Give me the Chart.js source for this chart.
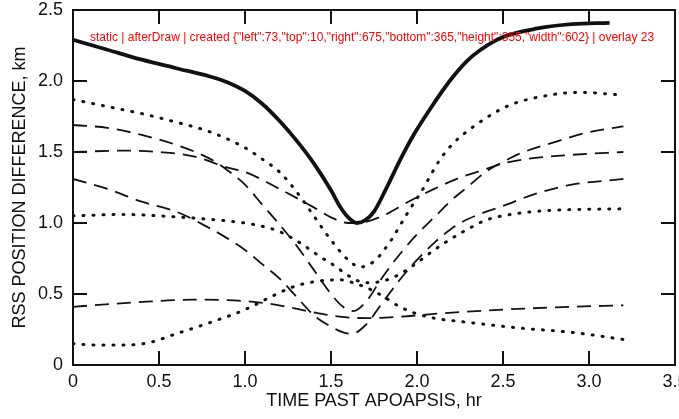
<!DOCTYPE html>
<html lang="en">
<head>
    <meta charset="UTF-8">
    <title>RSS Position Difference</title>
    <style>
        body {
            margin: 0;
            padding: 0;
            background-color: #fff;
        }
        .wrap {
            position: relative;
            width: 679px;
            height: 419px;
        }
        #chart {
            display: block;
        }
        .frame, .tick {
            position: absolute;
            pointer-events: none;
            box-sizing: border-box;
        }
        .frame {
            border: 2px solid #111;
        }
        .tick {
            background-color: #111;
        }
        #dbg {
            position: absolute;
            left: 90px;
            top: 30px;
            color: red;
            font: 12px sans-serif;
        }
    </style>
</head>
<body>
    <div class="wrap" id="wrap">
        <canvas id="chart" width="679" height="419"></canvas>
        <div id="dbg">static</div>
    </div>

    <script src="https://cdn.jsdelivr.net/npm/chart.js"></script>
    <script>
        const dbg = m => { document.getElementById('dbg').textContent += ' | ' + m; };
        window.onerror = m => dbg('ERR ' + m);

        // Values (hours, km)
        const xTicks = [0, 0.5, 1.0, 1.5, 2.0, 2.5, 3.0, 3.5];
        const yTicks = [0, 0.5, 1.0, 1.5, 2.0, 2.5];

        // Solid curve
        const solidT = [0, 0.2, 0.4, 0.6, 0.8, 0.9, 1.0, 1.1, 1.2, 1.3, 1.4, 1.5, 1.55, 1.6, 1.65, 1.7, 1.75, 1.82, 1.9, 1.98, 2.08, 2.19, 2.29, 2.37, 2.5, 2.7, 2.9, 3.12];
        const solidY = [2.29, 2.22, 2.15, 2.09, 2.03, 1.99, 1.93, 1.84, 1.72, 1.58, 1.42, 1.23, 1.12, 1.04, 1.0, 1.02, 1.08, 1.24, 1.44, 1.62, 1.81, 2.0, 2.14, 2.22, 2.31, 2.37, 2.4, 2.41];

        // Dotted curves
        const dot1T = [0, 0.2, 0.4, 0.6, 0.8, 1.0, 1.1, 1.2, 1.3, 1.4, 1.5, 1.6, 1.67, 1.75, 1.85, 1.91, 1.96, 2.02, 2.13, 2.21, 2.33, 2.52, 2.72, 2.95, 3.2];
        const dot1Y = [1.87, 1.82, 1.77, 1.71, 1.64, 1.53, 1.45, 1.36, 1.22, 1.05, 0.88, 0.74, 0.69, 0.73, 0.88, 1.0, 1.1, 1.21, 1.44, 1.56, 1.68, 1.82, 1.89, 1.92, 1.9];

        const dot2T = [0, 0.3, 0.5, 0.75, 0.93, 1.05, 1.2, 1.32, 1.44, 1.52, 1.6, 1.7, 1.8, 1.9, 2.0, 2.1, 2.2, 2.3, 2.4, 2.6, 2.8, 3.2];
        const dot2Y = [1.05, 1.06, 1.05, 1.03, 1.01, 0.99, 0.94, 0.86, 0.76, 0.7, 0.63, 0.58, 0.59, 0.64, 0.72, 0.81, 0.89, 0.96, 1.02, 1.07, 1.09, 1.1];

        const dot3T = [0, 0.15, 0.3, 0.45, 0.6, 0.8, 1.0, 1.15, 1.28, 1.42, 1.55, 1.65, 1.75, 1.82, 1.9, 2.0, 2.1, 2.3, 2.6, 2.9, 3.2];
        const dot3Y = [0.15, 0.14, 0.14, 0.16, 0.22, 0.3, 0.39, 0.48, 0.55, 0.59, 0.6, 0.57, 0.52, 0.47, 0.41, 0.36, 0.33, 0.3, 0.26, 0.23, 0.18];

        // Dashed curves
        const dashAT = [0, 0.2, 0.4, 0.6, 0.8, 0.9, 1.0, 1.1, 1.2, 1.3, 1.4, 1.5, 1.57, 1.63, 1.7, 1.8, 1.9, 2.0, 2.1, 2.2, 2.3, 2.4, 2.5, 2.6, 2.8, 3.0, 3.2];
        const dashAY = [1.69, 1.67, 1.62, 1.55, 1.45, 1.37, 1.27, 1.13, 0.99, 0.84, 0.67, 0.5, 0.41, 0.38, 0.44, 0.62, 0.78, 0.92, 1.04, 1.16, 1.26, 1.36, 1.43, 1.49, 1.57, 1.64, 1.68];

        const dashBT = [0, 0.3, 0.5, 0.7, 0.9, 1.0, 1.2, 1.4, 1.5, 1.6, 1.65, 1.8, 1.95, 2.1, 2.25, 2.4, 2.5, 2.7, 2.9, 3.2];
        const dashBY = [1.5, 1.51, 1.5, 1.47, 1.39, 1.36, 1.24, 1.11, 1.04, 1.0, 1.0, 1.05, 1.15, 1.24, 1.32, 1.38, 1.42, 1.46, 1.48, 1.5];

        const dashCT = [0, 0.2, 0.4, 0.6, 0.8, 0.9, 1.0, 1.1, 1.2, 1.3, 1.4, 1.5, 1.57, 1.62, 1.7, 1.8, 1.9, 2.0, 2.1, 2.2, 2.3, 2.5, 2.7, 2.9, 3.2];
        const dashCY = [1.31, 1.24, 1.15, 1.08, 0.96, 0.89, 0.81, 0.71, 0.61, 0.48, 0.35, 0.27, 0.23, 0.22, 0.28, 0.44, 0.6, 0.74, 0.86, 0.96, 1.03, 1.12, 1.21, 1.27, 1.31];

        const dashET = [0, 0.35, 0.7, 1.0, 1.2, 1.4, 1.55, 1.7, 1.9, 2.1, 2.5, 2.9, 3.2];
        const dashEY = [0.41, 0.44, 0.46, 0.45, 0.42, 0.37, 0.34, 0.33, 0.34, 0.36, 0.39, 0.41, 0.42];

        const FONT = '"Liberation Sans", Arial, Helvetica, sans-serif';
        const INK = '#111';

        function series(xs, ys, kind) {
            const ds = {
                data: xs.map((x, i) => ({ x: x, y: ys[i] })),
                borderColor: INK,
                pointRadius: 0,
                fill: false,
                cubicInterpolationMode: 'monotone'
            };
            if (kind === 'solid') {
                ds.borderWidth = 3.8;
            } else if (kind === 'dash') {
                ds.borderWidth = 1.8;
                ds.borderDash = [14, 8];
            } else {
                ds.borderWidth = 3;
                ds.borderDash = [1, 9];
                ds.borderCapStyle = 'round';
            }
            return ds;
        }

        function fmt(v) {
            return v === 0 ? '0' : v.toFixed(1);
        }

        const framePlugin = {
            id: 'boxTicks',
            afterDraw(chart) {
                dbg('afterDraw');
                const ctx = chart.ctx;
                const a = chart.chartArea;
                ctx.save();
                ctx.setLineDash([]);
                ctx.strokeStyle = INK;
                ctx.lineWidth = 2;
                ctx.strokeRect(a.left, a.top, a.right - a.left, a.bottom - a.top);
                ctx.restore();
            }
        };

        const chart = new Chart(document.getElementById('chart'), {
            type: 'line',
            data: {
                datasets: [
                    series(solidT, solidY, 'solid'),
                    series(dot1T, dot1Y, 'dot'),
                    series(dot2T, dot2Y, 'dot'),
                    series(dot3T, dot3Y, 'dot'),
                    series(dashAT, dashAY, 'dash'),
                    series(dashBT, dashBY, 'dash'),
                    series(dashCT, dashCY, 'dash'),
                    series(dashET, dashEY, 'dash')
                ]
            },
            options: {
                responsive: false,
                animation: false,
                devicePixelRatio: 1,
                layout: { padding: { top: 10, right: 4, left: 0, bottom: 0 } },
                plugins: {
                    legend: { display: false },
                    tooltip: { enabled: false }
                },
                scales: {
                    x: {
                        type: 'linear',
                        min: 0,
                        max: 3.5,
                        afterBuildTicks: s => { s.ticks = xTicks.map(v => ({ value: v })); },
                        ticks: {
                            color: INK,
                            font: { family: FONT, size: 18 },
                            padding: 6,
                            maxRotation: 0,
                            callback: fmt
                        },
                        grid: { display: false, drawTicks: false },
                        border: { display: false },
                        title: {
                            display: true,
                            text: 'TIME PAST APOAPSIS, hr',
                            color: INK,
                            font: { family: FONT, size: 18 },
                            padding: { top: 0, bottom: 7 }
                        },
                        afterFit: s => {
                            s.height = 54;
                            s.paddingLeft = 0;
                            s.paddingRight = 0;
                        }
                    },
                    y: {
                        type: 'linear',
                        min: 0,
                        max: 2.5,
                        afterBuildTicks: s => { s.ticks = yTicks.map(v => ({ value: v })); },
                        ticks: {
                            color: INK,
                            font: { family: FONT, size: 18 },
                            padding: 10,
                            callback: fmt
                        },
                        grid: { display: false, drawTicks: false },
                        border: { display: false },
                        title: {
                            display: true,
                            text: 'RSS POSITION DIFFERENCE, km',
                            color: INK,
                            font: { family: FONT, size: 18 },
                            padding: { top: 9, bottom: 0 }
                        },
                        afterFit: s => {
                            s.width = 73;
                            s.paddingTop = 0;
                            s.paddingBottom = 0;
                        }
                    }
                }
            },
            plugins: [framePlugin]
        });
        dbg('created ' + JSON.stringify(chart.chartArea));

        // plot box and inward ticks, placed from the chart's own scales
        const wrap = document.getElementById('wrap');
        const area = chart.chartArea;
        const TICK = 14;

        function addBox(cls, left, top, width, height) {
            const el = document.createElement('div');
            el.className = cls;
            el.style.left = left + 'px';
            el.style.top = top + 'px';
            el.style.width = width + 'px';
            el.style.height = height + 'px';
            wrap.appendChild(el);
        }

        addBox('frame', area.left - 1, area.top - 1, area.right - area.left + 2, area.bottom - area.top + 2);

        xTicks.slice(1, -1).forEach(v => {
            const px = chart.scales.x.getPixelForValue(v);
            addBox('tick', px - 0.8, area.bottom - TICK, 1.6, TICK);
            addBox('tick', px - 0.8, area.top, 1.6, TICK);
        });
        yTicks.slice(1, -1).forEach(v => {
            const py = chart.scales.y.getPixelForValue(v);
            addBox('tick', area.left, py - 0.8, TICK, 1.6);
            addBox('tick', area.right - TICK, py - 0.8, TICK, 1.6);
        });
        dbg('overlay ' + wrap.children.length);
    </script>
</body>
</html>
